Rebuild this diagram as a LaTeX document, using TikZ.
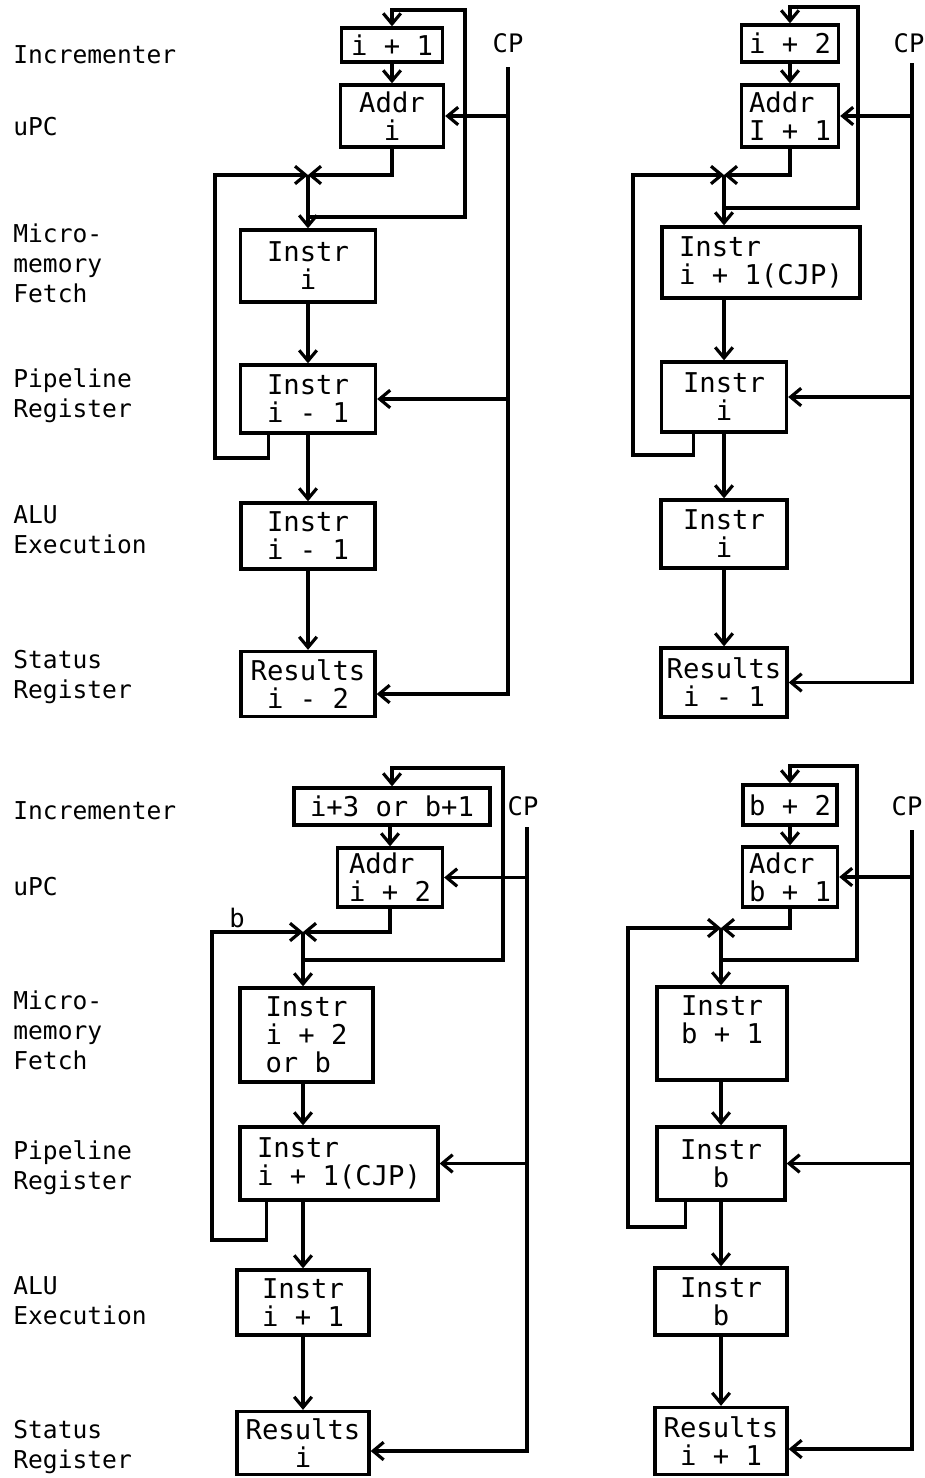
\documentclass[tikz,border=0pt]{standalone}
\usepackage{fontspec}
\setmonofont{DejaVu Sans Mono}
\usepackage{tikz}
\usetikzlibrary{arrows.meta, positioning, calc}
\tikzset{
	reg_box/.style={rectangle, draw=black, line width=1.9pt, inner sep=0pt, align=center, font=\ttfamily\fontsize{15.5}{16}\selectfont},
	reg_box_left/.style={reg_box, align=left},
	side_label/.style={anchor=west, inner sep=0pt, align=left, font=\ttfamily\fontsize{14}{17}\selectfont},
	cp_label/.style={inner sep=0pt, font=\ttfamily\fontsize{14.5}{16}\selectfont},
	conn/.style={draw=black, line width=1.8pt},
	flow_arrow/.style={conn, ->},
	junction/.style={coordinate}
}

\begin{document}
\begin{tikzpicture}[x=0.02cm, y=-0.02cm, >={Straight Barb[length=6pt, width=10pt]}]
	\useasboundingbox (0,0) rectangle (925,1478);
	% row names, upper half
	\node[side_label] (inc_l1) at (13,55) {Incrementer};
	\node[side_label] (upc_l1) at (13,127) {uPC};
	\node[side_label] (mem_l1) at (13,263) {Micro-\\memory\\Fetch};
	\node[side_label] (pipe_l1) at (13,396) {Pipeline\\Register};
	\node[side_label] (alu_l1) at (13,530) {ALU\\Execution};
	\node[side_label] (stat_l1) at (13,677) {Status\\Register};
	% row names, lower half
	\node[side_label] (inc_l2) at (13,811) {Incrementer};
	\node[side_label] (upc_l2) at (13,887) {uPC};
	\node[side_label] (mem_l2) at (13,1030) {Micro-\\memory\\Fetch};
	\node[side_label] (pipe_l2) at (13,1168) {Pipeline\\Register};
	\node[side_label] (alu_l2) at (13,1301) {ALU\\Execution};
	\node[side_label] (stat_l2) at (13,1447) {Status\\Register};

	% panel a
	\node[reg_box, minimum width=2.02cm, minimum height=0.68cm] (inc_a) at (392,45) {i + 1};
	\node[reg_box, minimum width=2.06cm, minimum height=1.24cm] (addr_a) at (392,116) {Addr\\i};
	\node[reg_box, minimum width=2.7cm, minimum height=1.44cm] (fetch_a) at (308,266) {Instr\\i};
	\node[reg_box, minimum width=2.7cm, minimum height=1.36cm] (pipe_a) at (308,399) {Instr\\i - 1};
	\node[reg_box, minimum width=2.68cm, minimum height=1.32cm] (alu_a) at (308,536) {Instr\\i - 1};
	\node[reg_box, minimum width=2.68cm, minimum height=1.3cm] (stat_a) at (308,684) {Results\\i - 2};
	\node[cp_label] (cpl_a) at (508,43) {CP};
	\node[junction] (cp_a) at (508,67) {};
	\node[junction] (join_a) at (308,175) {};
	\node[junction] (tap_a) at (308,217) {};
	\node[junction] (loop_a) at (465,10) {};
	\node[junction] (fb_a) at (215,458) {};
	\draw[flow_arrow] (inc_a) -- (addr_a);
	\draw[flow_arrow] (addr_a) |- (join_a);
	\draw[flow_arrow] ([xshift=0.59cm]pipe_a.south west) |- (fb_a) |- (join_a);
	\draw[flow_arrow] (join_a) -- (fetch_a);
	\draw[flow_arrow] (tap_a) -| (loop_a) -| (inc_a);
	\draw[flow_arrow] (fetch_a) -- (pipe_a);
	\draw[flow_arrow] (pipe_a) -- (alu_a);
	\draw[flow_arrow] (alu_a) -- (stat_a);
	\draw[flow_arrow] (cp_a) |- ([yshift=-0.2cm]stat_a.east);
	\draw[flow_arrow] (cp_a |- addr_a) -- (addr_a);
	\draw[flow_arrow] (cp_a |- pipe_a) -- (pipe_a);

	% panel b
	\node[reg_box, minimum width=1.94cm, minimum height=0.74cm] (inc_b) at (790,43.5) {i + 2};
	\node[reg_box_left, minimum width=1.94cm, minimum height=1.24cm] (addr_b) at (790,116) {Addr\\I + 1};
	\node[reg_box_left, minimum width=3.96cm, minimum height=1.42cm] (fetch_b) at (761,262.5) {Instr\\i + 1(CJP)};
	\node[reg_box, minimum width=2.5cm, minimum height=1.4cm] (pipe_b) at (724,397) {Instr\\i};
	\node[reg_box, minimum width=2.52cm, minimum height=1.36cm] (alu_b) at (724,534) {Instr\\i};
	\node[reg_box, minimum width=2.52cm, minimum height=1.38cm] (stat_b) at (724,682.5) {Results\\i - 1};
	\node[cp_label] (cpl_b) at (909,43) {CP};
	\node[junction] (cp_b) at (912,63) {};
	\node[junction] (join_b) at (724,175) {};
	\node[junction] (tap_b) at (724,208) {};
	\node[junction] (loop_b) at (858,7) {};
	\node[junction] (fb_b) at (633,455) {};
	\draw[flow_arrow] (inc_b) -- (addr_b);
	\draw[flow_arrow] (addr_b) |- (join_b);
	\draw[flow_arrow] ([xshift=0.67cm]pipe_b.south west) |- (fb_b) |- (join_b);
	\draw[flow_arrow] (join_b) -- (join_b |- fetch_b.north);
	\draw[flow_arrow] (tap_b) -| (loop_b) -| (inc_b);
	\draw[flow_arrow] (join_b |- fetch_b.south) -- (pipe_b);
	\draw[flow_arrow] (pipe_b) -- (alu_b);
	\draw[flow_arrow] (alu_b) -- (stat_b);
	\draw[flow_arrow] (cp_b) |- (stat_b);
	\draw[flow_arrow] (cp_b |- addr_b) -- (addr_b);
	\draw[flow_arrow] (cp_b |- pipe_b) -- (pipe_b);

	% panel c
	\node[reg_box, minimum width=3.92cm, minimum height=0.74cm] (inc_c) at (392,806.5) {i+3 or b+1};
	\node[reg_box_left, minimum width=2.1cm, minimum height=1.18cm] (addr_c) at (390,877.5) {Addr\\i + 2};
	\node[reg_box_left, minimum width=2.66cm, minimum height=1.88cm] (fetch_c) at (306.5,1035) {Instr\\i + 2\\or b};
	\node[reg_box_left, minimum width=3.96cm, minimum height=1.46cm] (pipe_c) at (339,1163.5) {Instr\\i + 1(CJP)};
	\node[reg_box, minimum width=2.64cm, minimum height=1.3cm] (alu_c) at (303,1302.5) {Instr\\i + 1};
	\node[reg_box, minimum width=2.64cm, minimum height=1.26cm] (stat_c) at (303,1443) {Results\\i};
	\node[cp_label] (cpl_c) at (523,806) {CP};
	\node[cp_label, anchor=south, inner sep=1pt] (b_c) at (237,930) {b};
	\node[junction] (cp_c) at (527,827) {};
	\node[junction] (join_c) at (303,932) {};
	\node[junction] (tap_c) at (303,960) {};
	\node[junction] (loop_c) at (503,768) {};
	\node[junction] (fb_c) at (212,1240) {};
	\draw[flow_arrow] (inc_c.south -| addr_c) -- (addr_c);
	\draw[flow_arrow] (addr_c) |- (join_c);
	\draw[flow_arrow] ([xshift=0.56cm]pipe_c.south west) |- (fb_c) |- (join_c);
	\draw[flow_arrow] (join_c) -- (join_c |- fetch_c.north);
	\draw[flow_arrow] (tap_c) -| (loop_c) -| (inc_c);
	\draw[flow_arrow] (join_c |- fetch_c.south) -- (join_c |- pipe_c.north);
	\draw[flow_arrow] (join_c |- pipe_c.south) -- (alu_c);
	\draw[flow_arrow] (alu_c) -- (stat_c);
	\draw[flow_arrow] (cp_c) |- ([yshift=-0.16cm]stat_c.east);
	\draw[flow_arrow] (cp_c |- addr_c) -- (addr_c);
	\draw[flow_arrow] (cp_c |- pipe_c) -- (pipe_c);

	% panel d
	\node[reg_box, minimum width=1.88cm, minimum height=0.8cm] (inc_d) at (790,805) {b + 2};
	\node[reg_box_left, minimum width=1.9cm, minimum height=1.2cm] (addr_d) at (790,877) {Adcr\\b + 1};
	\node[reg_box, minimum width=2.6cm, minimum height=1.86cm] (fetch_d) at (722,1033.5) {Instr\\b + 1\\~};
	\node[reg_box, minimum width=2.56cm, minimum height=1.46cm] (pipe_d) at (721,1163.5) {Instr\\b};
	\node[reg_box, minimum width=2.64cm, minimum height=1.34cm] (alu_d) at (721,1301.5) {Instr\\b};
	\node[reg_box, minimum width=2.64cm, minimum height=1.34cm] (stat_d) at (721,1441) {Results\\i + 1};
	\node[cp_label] (cpl_d) at (907,806) {CP};
	\node[junction] (cp_d) at (912,830) {};
	\node[junction] (join_d) at (721,928) {};
	\node[junction] (tap_d) at (721,960) {};
	\node[junction] (loop_d) at (857,766) {};
	\node[junction] (fb_d) at (628,1227) {};
	\draw[flow_arrow] (inc_d) -- (addr_d);
	\draw[flow_arrow] (addr_d) |- (join_d);
	\draw[flow_arrow] ([xshift=0.6cm]pipe_d.south west) |- (fb_d) |- (join_d);
	\draw[flow_arrow] (join_d) -- (join_d |- fetch_d.north);
	\draw[flow_arrow] (tap_d) -| (loop_d) -| (inc_d);
	\draw[flow_arrow] (join_d |- fetch_d.south) -- (pipe_d);
	\draw[flow_arrow] (pipe_d) -- (alu_d);
	\draw[flow_arrow] (alu_d) -- (stat_d);
	\draw[flow_arrow] (cp_d) |- ([yshift=-0.16cm]stat_d.east);
	\draw[flow_arrow] (cp_d |- addr_d) -- (addr_d);
	\draw[flow_arrow] (cp_d |- pipe_d) -- (pipe_d);
\end{tikzpicture}
\end{document}
